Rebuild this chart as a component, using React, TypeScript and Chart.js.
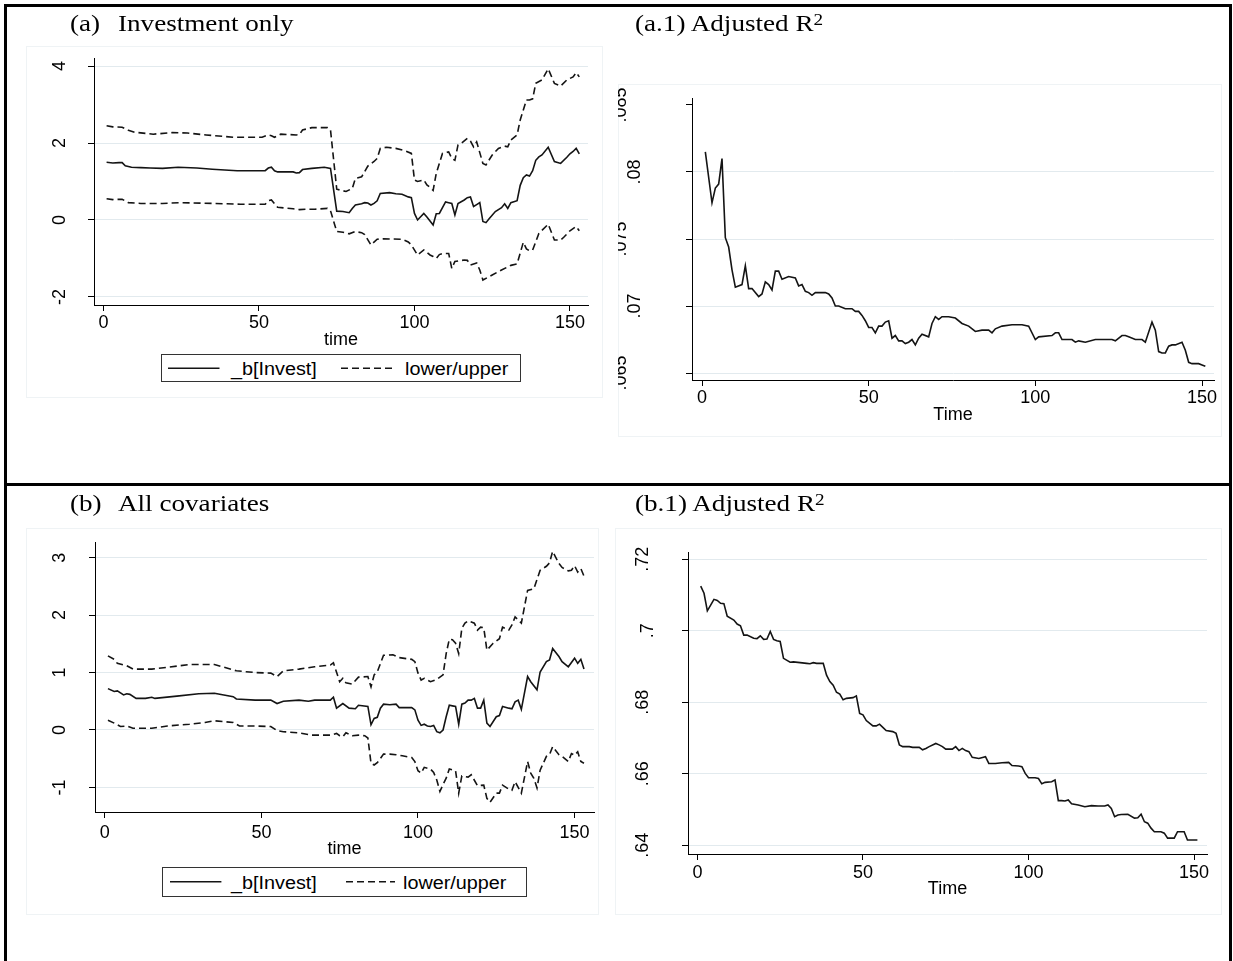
import React, { useEffect, useRef } from 'react';
import { Chart, registerables } from 'chart.js';

Chart.register(...registerables);

const FONT = '"Liberation Sans", Arial, Helvetica, sans-serif';
const SERIF = '"Liberation Serif", "Times New Roman", Times, serif';
const LINE = '#141414';
const GRID = '#e2eaee';
const REGION = '#eff3f5';

// ---------- tick values / labels ----------
const X_TICKS = [0, 50, 100, 150];
const A_Y_TICKS = [-2, 0, 2, 4];
const A_Y_LABELS = ['-2', '0', '2', '4'];
const A1_Y_TICKS = [0.065, 0.07, 0.075, 0.08, 0.085];
const A1_Y_LABELS = ['.065', '.07', '.075', '.08', '.085'];
const A1_Y_ALT = [0.065, 0.075, 0.085];
const B_Y_TICKS = [-1, 0, 1, 2, 3];
const B_Y_LABELS = ['-1', '0', '1', '2', '3'];
const B1_Y_TICKS = [0.64, 0.66, 0.68, 0.7, 0.72];
const B1_Y_LABELS = ['.64', '.66', '.68', '.7', '.72'];

// ---------- panel (a): investment only ----------
const aCoefTime = [1,3,5,6,7,9,12,15,19,24,30,35,43,52,53,54,55,56,61,62,63,64,67,71,73,75,77,79,80,81,83,84,85,86,87,88,89,92,94,96,98,99,100,101,103,104,106,107,108,110,111,112,113,114,116,117,118,119,120,121,122,123,124,126,128,129,130,131,133,134,135,136,137,138,139,140,141,143,145,147,149,150,151,152,153];
const aCoef = [1.50,1.48,1.49,1.49,1.41,1.37,1.36,1.35,1.34,1.37,1.35,1.32,1.28,1.28,1.35,1.37,1.28,1.25,1.25,1.22,1.23,1.31,1.34,1.37,1.34,0.23,0.22,0.19,0.30,0.39,0.42,0.45,0.44,0.39,0.43,0.50,0.69,0.71,0.68,0.67,0.60,0.58,0.17,0.00,0.17,0.08,-0.13,0.16,0.17,0.47,0.45,0.43,0.13,0.43,0.52,0.58,0.60,0.35,0.40,0.45,-0.04,-0.07,0.03,0.22,0.32,0.42,0.30,0.45,0.50,0.90,1.10,1.17,1.14,1.28,1.55,1.64,1.69,1.89,1.52,1.47,1.63,1.72,1.78,1.86,1.72];
const aUpperTime = [1,3,6,8,10,16,22,27,33,42,51,53,54,55,57,62,63,64,67,72,73,75,78,80,81,83,85,87,88,89,91,94,97,99,100,101,103,104,105,106,107,109,111,112,113,114,115,117,118,119,120,122,123,125,127,129,130,131,133,134,136,137,138,139,141,143,145,147,149,151,152,153];
const aUpper = [2.45,2.42,2.41,2.33,2.28,2.23,2.27,2.26,2.21,2.15,2.15,2.21,2.19,2.15,2.23,2.21,2.22,2.34,2.40,2.40,2.34,0.80,0.74,0.82,1.08,1.12,1.40,1.52,1.60,1.86,1.89,1.86,1.80,1.73,1.04,1.00,1.04,0.91,0.85,0.77,1.21,1.73,1.77,1.60,1.55,1.95,1.99,2.12,2.05,1.90,2.03,1.47,1.43,1.69,1.86,1.92,1.90,2.08,2.21,2.60,3.12,3.12,3.15,3.55,3.64,3.93,3.55,3.48,3.64,3.72,3.83,3.72];
const aLowerTime = [1,3,6,8,12,19,25,35,44,52,53,54,56,61,63,65,68,72,73,75,77,79,81,83,84,86,88,90,96,98,99,101,103,105,106,107,108,109,111,112,113,116,117,118,120,121,122,125,128,131,133,135,136,137,138,140,143,145,147,148,150,152,153];
const aLower = [0.55,0.53,0.54,0.45,0.43,0.43,0.45,0.43,0.41,0.41,0.50,0.52,0.33,0.29,0.27,0.28,0.28,0.30,0.24,-0.30,-0.32,-0.36,-0.30,-0.33,-0.38,-0.65,-0.50,-0.49,-0.50,-0.57,-0.65,-0.91,-0.78,-0.91,-0.95,-1.00,-0.90,-0.87,-0.87,-1.26,-1.08,-1.04,-1.05,-1.17,-1.12,-1.30,-1.56,-1.43,-1.30,-1.18,-1.14,-0.58,-0.75,-0.80,-0.78,-0.35,-0.11,-0.52,-0.52,-0.45,-0.28,-0.17,-0.28];

// ---------- panel (a.1): adjusted R2 ----------
const a1Time = [1,3,4,5,6,7,8,9,10,12,13,14,15,17,18,19,20,21,22,23,24,26,28,29,30,31,32,33,34,37,38,39,40,41,43,45,46,47,48,49,50,51,52,53,54,55,56,57,58,59,60,61,62,63,64,65,66,68,69,70,71,72,74,76,78,80,82,84,86,87,88,90,93,96,98,100,101,105,106,107,108,111,112,113,115,118,123,124,126,127,128,130,132,133,135,136,137,138,139,140,141,142,144,145,146,147,149,150,151];
const a1AdjR2 = [.0815,.0777,.0788,.0791,.0810,.0751,.0744,.0727,.0714,.0716,.0730,.0713,.0713,.0707,.0709,.0718,.0716,.0712,.0726,.0726,.0720,.0722,.0721,.0715,.0716,.0711,.0710,.0708,.0710,.0710,.0709,.0706,.0700,.0700,.0698,.0698,.0696,.0696,.0693,.0689,.0684,.0684,.0680,.0685,.0685,.0688,.0689,.0676,.0678,.0674,.0674,.0672,.0673,.0675,.0671,.0676,.0679,.0677,.0687,.0692,.0690,.0692,.0692,.0691,.0687,.0685,.0681,.0682,.0682,.0680,.0683,.0685,.0686,.0686,.0685,.0675,.0677,.0678,.0680,.0680,.0675,.0675,.0673,.0674,.0673,.0675,.0675,.0674,.0678,.0678,.0677,.0675,.0675,.0673,.0688,.0682,.0666,.0665,.0665,.0670,.0671,.0671,.0673,.0667,.0658,.0657,.0657,.0656,.0655];

// ---------- panel (b): all covariates ----------
const bCoefTime = [1,3,4,6,7,8,10,13,15,16,23,30,35,41,42,48,53,55,57,62,65,67,72,73,74,76,78,80,81,84,85,86,87,88,89,91,93,94,98,99,100,101,102,103,104,105,106,107,108,109,110,111,112,113,114,115,116,117,118,119,120,121,122,123,125,126,127,129,130,131,132,133,135,136,138,139,141,142,143,145,146,148,150,151,152,153];
const bCoef = [0.72,0.67,0.68,0.61,0.63,0.62,0.55,0.55,0.57,0.55,0.59,0.63,0.64,0.58,0.54,0.52,0.52,0.46,0.50,0.52,0.50,0.52,0.52,0.57,0.38,0.46,0.38,0.37,0.43,0.41,0.09,0.20,0.22,0.38,0.45,0.44,0.45,0.39,0.39,0.35,0.17,0.08,0.10,0.07,0.06,0.08,-0.03,-0.05,0.00,0.23,0.43,0.42,0.41,0.10,0.45,0.47,0.52,0.52,0.55,0.38,0.38,0.52,0.12,0.06,0.23,0.25,0.41,0.38,0.37,0.49,0.52,0.36,0.93,0.84,0.70,1.01,1.19,1.22,1.42,1.28,1.19,1.10,1.25,1.16,1.23,1.06];
const bUpperTime = [1,3,4,7,9,15,20,27,35,42,48,53,55,57,62,67,72,73,75,76,77,79,81,84,85,86,87,89,92,94,98,99,100,101,102,104,106,108,109,110,111,112,113,114,115,116,118,119,120,121,122,124,126,127,129,130,131,133,135,137,139,141,142,143,145,146,148,149,150,151,152,153];
const bUpper = [1.29,1.23,1.16,1.12,1.06,1.06,1.09,1.14,1.14,1.03,1.00,0.99,0.93,1.03,1.06,1.10,1.13,1.17,0.84,0.90,0.82,0.80,0.92,0.93,0.75,0.96,1.01,1.30,1.31,1.26,1.23,1.19,0.99,0.87,0.90,0.84,0.88,0.96,1.33,1.58,1.57,1.51,1.33,1.77,1.86,1.90,1.86,1.74,1.79,1.78,1.39,1.51,1.59,1.79,1.74,1.83,1.97,1.86,2.43,2.46,2.78,2.85,2.91,3.11,2.90,2.83,2.77,2.78,2.86,2.75,2.81,2.68];
const bLowerTime = [1,3,5,7,9,15,20,27,32,35,41,43,48,53,55,57,62,66,72,74,75,76,77,79,81,83,84,85,86,87,89,91,93,95,98,99,100,101,102,104,105,106,107,108,109,110,112,113,114,116,117,119,121,122,123,125,126,127,129,130,131,133,135,136,137,138,139,141,142,143,145,146,148,149,150,151,152,153];
const bLower = [0.17,0.12,0.06,0.07,0.03,0.03,0.07,0.10,0.13,0.16,0.13,0.07,0.07,0.06,-0.01,-0.03,-0.05,-0.09,-0.09,-0.06,-0.10,-0.12,-0.05,-0.10,-0.09,-0.10,-0.14,-0.58,-0.61,-0.57,-0.42,-0.42,-0.43,-0.45,-0.48,-0.55,-0.71,-0.75,-0.65,-0.68,-0.74,-0.87,-1.07,-0.95,-0.84,-0.68,-0.71,-1.10,-0.80,-0.82,-0.78,-0.97,-0.96,-1.19,-1.26,-1.10,-1.10,-0.96,-1.03,-1.05,-0.90,-1.10,-0.55,-0.75,-0.84,-1.01,-0.70,-0.46,-0.43,-0.29,-0.43,-0.46,-0.55,-0.41,-0.44,-0.38,-0.55,-0.58];

// ---------- panel (b.1): adjusted R2 ----------
const b1Time = [1,2,3,4,5,6,7,8,9,11,12,13,14,15,17,18,19,20,21,22,23,24,25,26,28,29,31,33,34,35,36,38,39,40,41,42,43,44,45,47,48,49,50,51,53,54,55,56,57,59,60,61,62,64,65,67,68,69,70,72,73,74,75,77,78,79,80,81,82,83,85,87,88,90,92,94,95,97,98,99,100,102,103,104,105,107,108,109,110,111,112,113,115,117,119,121,123,124,125,126,127,128,130,132,133,134,135,136,137,138,140,141,142,144,145,147,148,151];
const b1AdjR2 = [.7125,.7105,.7056,.7072,.7088,.7085,.7077,.7076,.7041,.7030,.7019,.7014,.6988,.6988,.6979,.6978,.6986,.6976,.6977,.6998,.6976,.6972,.6970,.6923,.6912,.6913,.6911,.6909,.6908,.6911,.6909,.6909,.6876,.6858,.6848,.6828,.6823,.6807,.6811,.6813,.6818,.6769,.6765,.6749,.6734,.6734,.6739,.6730,.6721,.6718,.6713,.6681,.6676,.6676,.6674,.6674,.6667,.6671,.6676,.6685,.6681,.6676,.6669,.6669,.6676,.6665,.6671,.6665,.6662,.6646,.6643,.6648,.6629,.6629,.6631,.6632,.6623,.6622,.6620,.6601,.6589,.6589,.6587,.6572,.6576,.6578,.6583,.6525,.6525,.6524,.6527,.6516,.6513,.6508,.6511,.6510,.6510,.6513,.6503,.6480,.6485,.6486,.6487,.6476,.6477,.6487,.6466,.6462,.6448,.6438,.6438,.6434,.6420,.6420,.6438,.6438,.6415,.6415];

const zip = (t: number[], v: number[]) => t.map((x, i) => ({ x, y: v[i] }));

type Series = { t: number[]; v: number[]; dashed?: boolean };

interface Spec {
  left: number; top: number; width: number; height: number;
  padTop: number; padRight: number; yWidth: number; xHeight: number;
  xMin: number; xMax: number; yMin: number; yMax: number;
  yTicks: number[]; yLabels: string[]; yLabelX: number; yAlt?: number[]; yAltX?: number;
  yShiftShort?: boolean;
  hideGrid?: number;
  xTitle: string; xTickPad: number; xTitlePad: number;
  series: Series[];
}

// Draws the vertical (rotated) y-axis tick labels at the scale's tick pixels.
const yLabelPlugin = {
  id: 'yLabels',
  afterDraw(chart: any, _args: any, opts: any) {
    const ctx = chart.ctx;
    const ys = chart.scales.y;
    ctx.save();
    ctx.font = `18px ${FONT}`;
    ctx.fillStyle = '#000';
    ctx.textAlign = 'center';
    ctx.textBaseline = 'alphabetic';
    const labels: string[] = opts.labels;
    const widths = labels.map((l) => ctx.measureText(l).width);
    const maxW = Math.max(...widths);
    (opts.values as number[]).forEach((v, i) => {
      const py = ys.getPixelForValue(v);
      const isAlt = opts.alt && opts.alt.indexOf(v) >= 0;
      let bx = isAlt ? opts.altX : opts.x;
      if (opts.shiftShort) bx += (maxW - widths[i]) / 2;
      ctx.save();
      ctx.translate(bx, py);
      ctx.rotate(-Math.PI / 2);
      ctx.fillText(labels[i], 0, 0);
      ctx.restore();
    });
    ctx.restore();
  },
};

function makeConfig(s: Spec): any {
  return {
    type: 'line',
    data: {
      datasets: s.series.map((d) => ({
        data: zip(d.t, d.v),
        borderColor: LINE,
        borderWidth: 1.6,
        borderDash: d.dashed ? [7, 4] : [],
        pointRadius: 0,
        tension: 0,
        fill: false,
      })),
    },
    options: {
      animation: false,
      responsive: false,
      maintainAspectRatio: false,
      devicePixelRatio: 1,
      events: [],
      layout: { autoPadding: false, padding: { left: 0, top: s.padTop, right: s.padRight, bottom: 0 } },
      plugins: {
        legend: { display: false },
        tooltip: { enabled: false },
        yLabels: {
          values: s.yTicks, labels: s.yLabels, x: s.yLabelX, alt: s.yAlt, altX: s.yAltX, shiftShort: !!s.yShiftShort,
        },
      },
      scales: {
        x: {
          type: 'linear',
          min: s.xMin,
          max: s.xMax,
          afterBuildTicks: (sc: any) => { sc.ticks = X_TICKS.map((v) => ({ value: v })); },
          afterFit: (sc: any) => { sc.height = s.xHeight; sc.paddingLeft = 0; sc.paddingRight = 0; },
          grid: { drawOnChartArea: false, drawTicks: true, tickLength: 6, tickColor: '#000', tickWidth: 1 },
          border: { display: true, color: '#000', width: 1 },
          ticks: {
            color: '#000',
            font: { family: FONT, size: 18 },
            padding: s.xTickPad,
            maxRotation: 0,
            minRotation: 0,
            autoSkip: false,
            callback: (v: any) => String(v),
          },
          title: {
            display: true,
            text: s.xTitle,
            color: '#000',
            font: { family: FONT, size: 18 },
            padding: { top: 0, bottom: s.xTitlePad },
          },
        },
        y: {
          type: 'linear',
          min: s.yMin,
          max: s.yMax,
          afterBuildTicks: (sc: any) => { sc.ticks = s.yTicks.map((v) => ({ value: v })); },
          afterFit: (sc: any) => { sc.width = s.yWidth; sc.paddingTop = 0; sc.paddingBottom = 0; },
          grid: {
            color: (c: any) =>
              s.hideGrid !== undefined && c.tick && Math.abs(c.tick.value - s.hideGrid) < 1e-9
                ? 'rgba(0,0,0,0)'
                : GRID,
            lineWidth: 1,
            drawTicks: true,
            tickLength: 6,
            tickColor: '#000',
            tickWidth: 1,
          },
          border: { display: true, color: '#000', width: 1 },
          ticks: { display: false },
        },
      },
    },
    plugins: [yLabelPlugin],
  };
}

function Panel({ spec }: { spec: Spec }) {
  const ref = useRef<HTMLCanvasElement>(null);
  useEffect(() => {
    if (!ref.current) return;
    const chart = new Chart(ref.current, makeConfig(spec));
    return () => chart.destroy();
  }, []);
  return (
    <canvas
      ref={ref}
      width={spec.width}
      height={spec.height}
      style={{ position: 'absolute', left: spec.left, top: spec.top, width: spec.width, height: spec.height }}
    />
  );
}

const PANEL_A: Spec = {
  left: 26, top: 46, width: 577, height: 352,
  padTop: 12, padRight: 15, yWidth: 68, xHeight: 93,
  xMin: -3.05, xMax: 155.8, yMin: -2.21, yMax: 4.21,
  yTicks: A_Y_TICKS, yLabels: A_Y_LABELS, yLabelX: 39,
  xTitle: 'time', xTickPad: 1.2, xTitlePad: 47.2,
  series: [
    { t: aCoefTime, v: aCoef },
    { t: aUpperTime, v: aUpper, dashed: true },
    { t: aLowerTime, v: aLower, dashed: true },
  ],
};

const PANEL_A1: Spec = {
  left: 618, top: 84, width: 604, height: 353,
  padTop: 14, padRight: 8, yWidth: 74, xHeight: 57,
  xMin: -3, xMax: 153.6, yMin: 0.06448, yMax: 0.08552,
  yTicks: A1_Y_TICKS, yLabels: A1_Y_LABELS, yLabelX: 22, yAlt: A1_Y_ALT, yAltX: 8,
  hideGrid: 0.085,
  xTitle: 'Time', xTickPad: 1.5, xTitlePad: 11.2,
  series: [{ t: a1Time, v: a1AdjR2 }],
};

const PANEL_B: Spec = {
  left: 26, top: 528, width: 573, height: 387,
  padTop: 14, padRight: 5, yWidth: 69, xHeight: 103,
  xMin: -3.13, xMax: 156.2, yMin: -1.428, yMax: 3.273,
  yTicks: B_Y_TICKS, yLabels: B_Y_LABELS, yLabelX: 39,
  xTitle: 'time', xTickPad: 4.5, xTitlePad: 54.9,
  series: [
    { t: bCoefTime, v: bCoef },
    { t: bUpperTime, v: bUpper, dashed: true },
    { t: bLowerTime, v: bLower, dashed: true },
  ],
};

const PANEL_B1: Spec = {
  left: 615, top: 528, width: 607, height: 387,
  padTop: 24, padRight: 15, yWidth: 73, xHeight: 61,
  xMin: -2.84, xMax: 153.9, yMin: 0.63757, yMax: 0.72204,
  yTicks: B1_Y_TICKS, yLabels: B1_Y_LABELS, yLabelX: 33, yShiftShort: true,
  xTitle: 'Time', xTickPad: 2.5, xTitlePad: 15.2,
  series: [{ t: b1Time, v: b1AdjR2 }],
};

function Title({ left, top, children }: { left: number; top: number; children: React.ReactNode }) {
  return (
    <div
      style={{
        position: 'absolute', left, top, font: `24px ${SERIF}`, lineHeight: '24px', color: '#000',
        whiteSpace: 'pre', transform: 'scaleX(1.13)', transformOrigin: 'left top',
      }}
    >
      {children}
    </div>
  );
}

function Legend({ left, top, width, height, lineY, solid, dashed, text1X, text2X, textTop }: any) {
  const abs = (l: number, t: number, extra: any = {}) => ({ position: 'absolute' as const, left: l, top: t, ...extra });
  const txt = { font: `18px ${FONT}`, lineHeight: '18px', whiteSpace: 'pre', transform: 'scaleX(1.1)', transformOrigin: 'left top' };
  return (
    <>
      <div style={abs(left, top, { width, height, border: '1px solid #333', boxSizing: 'border-box', background: '#fff' })} />
      <svg style={abs(0, 0)} width={1233} height={961} overflow="visible" pointerEvents="none">
        <line x1={solid[0]} x2={solid[1]} y1={lineY} y2={lineY} stroke={LINE} strokeWidth={1.5} />
        <line x1={dashed[0]} x2={dashed[1]} y1={lineY} y2={lineY} stroke={LINE} strokeWidth={1.5} strokeDasharray="7 4" />
      </svg>
      <div style={abs(text1X, textTop, txt)}>_b[Invest]</div>
      <div style={abs(text2X, textTop, txt)}>lower/upper</div>
    </>
  );
}

export default function App() {
  const bar = (l: number, t: number, w: number, h: number) => (
    <div style={{ position: 'absolute', left: l, top: t, width: w, height: h, background: '#000' }} />
  );
  const region = (l: number, t: number, w: number, h: number) => (
    <div style={{ position: 'absolute', left: l, top: t, width: w, height: h, border: `1px solid ${REGION}`, boxSizing: 'border-box' }} />
  );
  return (
    <div style={{ position: 'absolute', left: 0, top: 0, width: 1233, height: 961, background: '#fff', overflow: 'hidden' }}>
      {region(26, 46, 577, 352)}
      {region(618, 84, 604, 353)}
      {region(26, 528, 573, 387)}
      {region(615, 528, 607, 387)}

      <Panel spec={PANEL_A} />
      <Panel spec={PANEL_A1} />
      <Panel spec={PANEL_B} />
      <Panel spec={PANEL_B1} />

      <Legend left={160.5} top={354} width={360.5} height={28} lineY={368.3}
        solid={[168, 219.5]} dashed={[341, 395.4]} text1X={230.5} text2X={405} textTop={359.8} />
      <Legend left={162} top={867} width={365} height={30} lineY={881.7}
        solid={[170, 221.4]} dashed={[346, 395]} text1X={231} text2X={403} textTop={874} />

      <Title left={70} top={10.9}>(a)</Title>
      <Title left={117.8} top={10.9}>Investment only</Title>
      <Title left={634.6} top={10.9}>
        (a.1) Adjusted R<span style={{ fontSize: 17, verticalAlign: 6, lineHeight: 0 }}>2</span>
      </Title>
      <Title left={70} top={490.6}>(b)</Title>
      <Title left={117.8} top={490.6}>All covariates</Title>
      <Title left={634.6} top={490.6}>
        (b.1) Adjusted R<span style={{ fontSize: 17, verticalAlign: 6, lineHeight: 0 }}>2</span>
      </Title>

      {bar(4, 4, 1228, 3)}
      {bar(4, 4, 3, 957)}
      {bar(1229, 4, 3, 957)}
      {bar(4, 483, 1228, 3)}
    </div>
  );
}
